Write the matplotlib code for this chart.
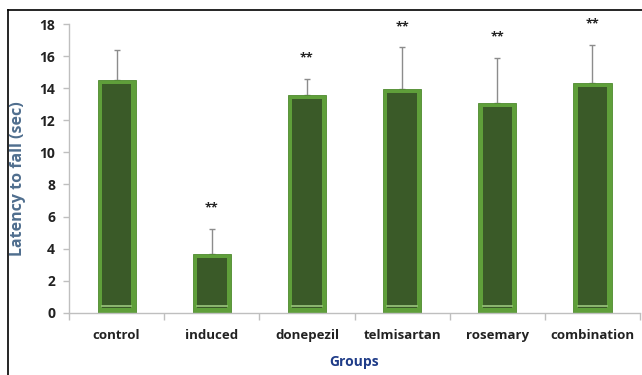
import matplotlib.pyplot as plt
from matplotlib.lines import Line2D
import numpy as np

groups = ['control', 'induced', 'donepezil', 'telmisartan', 'rosemary', 'combination']
means = [14.5, 3.65, 13.55, 13.95, 13.1, 14.3]
errors = [1.9, 1.6, 1.05, 2.6, 2.8, 2.4]
marks = ['', '**', '**', '**', '**', '**']

plt.rcParams['font.family'] = ['Open Sans', 'DejaVu Sans']

fig = plt.figure(figsize=(6.42, 3.75), dpi=100)
ax = fig.add_axes([0.1075, 0.166, 0.8895, 0.770])

x = np.arange(len(groups))
light = '#5f9f3a'
dark = '#3a5a28'

# outer bevel, inner face
ax.bar(x, means, width=0.40, color=light, edgecolor='#4e8a2e', linewidth=0.6, zorder=2)
inner = [m - 0.55 for m in means]
ax.bar(x, inner, width=0.31, bottom=0.3, color=dark, linewidth=0, zorder=3)
for xi in x:
    ax.plot([xi - 0.155, xi + 0.155], [0.4, 0.4], color='#9cc77e', lw=1.2, zorder=4)

ax.errorbar(x, means, yerr=[np.zeros(len(means)), errors], fmt='none',
            ecolor='#8c8c8c', elinewidth=1.0, capsize=2.5, capthick=1.0, zorder=1)

for xi, m, e, s in zip(x, means, errors, marks):
    if s:
        ax.text(xi, m + e + 1.3, s, ha='center', va='center', fontsize=9,
                fontweight='bold', color='#222222')

ax.set_xlim(-0.5, len(groups) - 0.5)
ax.set_ylim(0, 18)
ax.set_yticks(range(0, 19, 2))
ax.set_xticks(x)
ax.set_xticklabels(groups, fontsize=9.5, fontweight='bold', color='#222222')
ax.set_xticks(np.arange(-0.5, len(groups), 1), minor=True)
ax.tick_params(axis='x', which='major', length=0, pad=12)
ax.tick_params(axis='x', which='minor', length=5, color='#bfbfbf', width=1)
ax.tick_params(axis='y', length=4, color='#bfbfbf', width=1, pad=6)
for lab in ax.get_yticklabels():
    lab.set_fontweight('bold')
    lab.set_fontsize(10)
    lab.set_color('#222222')

for side in ['top', 'right']:
    ax.spines[side].set_visible(False)
for side in ['left', 'bottom']:
    ax.spines[side].set_color('#bfbfbf')
    ax.spines[side].set_linewidth(1)

ax.set_ylabel('Latency to fall (sec)', fontsize=11.5, fontweight='bold', color='#4f6e8e')
ax.yaxis.set_label_coords(-0.076, 0.465)
ax.set_xlabel('Groups', fontsize=10, fontweight='bold', color='#1f3c88', labelpad=9)

# frame lines of the original figure
fig.add_artist(Line2D([8 / 642, 1], [1 - 10 / 375, 1 - 10 / 375], color='black', lw=1.2))
fig.add_artist(Line2D([8 / 642, 8 / 642], [0, 1 - 10 / 375], color='black', lw=1.2))

fig.savefig('out.png', dpi=100)
